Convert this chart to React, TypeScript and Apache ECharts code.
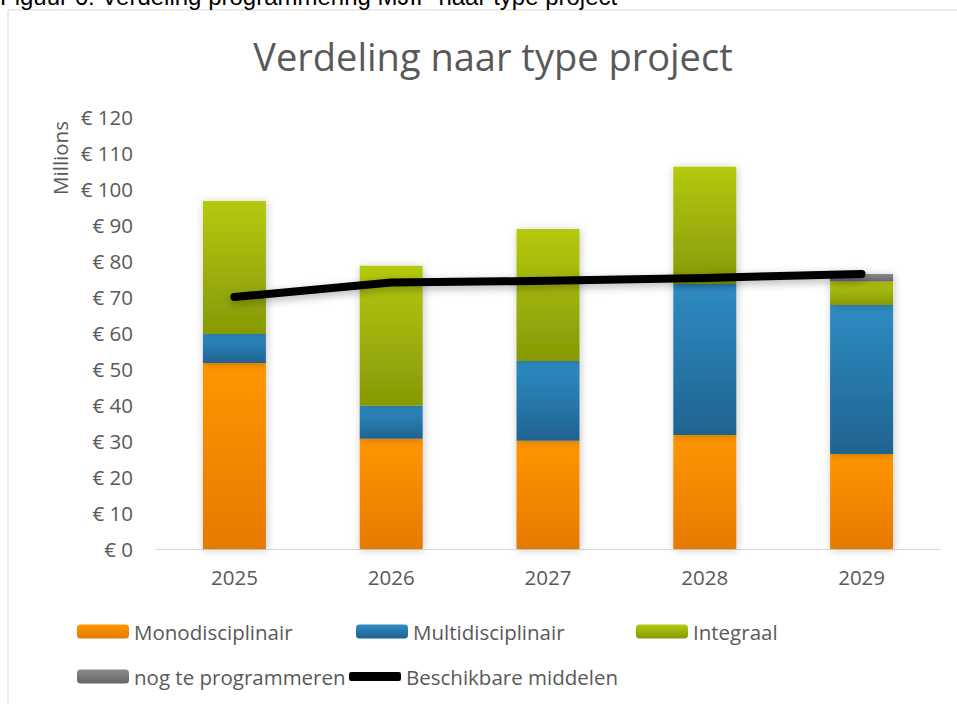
import React, { useEffect, useRef } from "react";
import * as echarts from "echarts";

const years = ["2025", "2026", "2027", "2028", "2029"];
const mono = [51.7, 30.6, 30.1, 31.7, 26.4];
const multi = [8.0, 9.2, 22.1, 41.9, 41.4];
const integraal = [37.0, 38.9, 36.7, 32.6, 6.5];
const nogTe = [0, 0, 0, 0, 2.1];
const beschikbaar = [70.0, 74.0, 74.5, 75.3, 76.4];
const yTicks = { min: 0, max: 120, interval: 10 };

const FONT = "'Open Sans', 'Noto Sans', sans-serif";
const TXT = "#595959";

function grad(top: string, bottom: string) {
  return new echarts.graphic.LinearGradient(0, 0, 0, 1, [
    { offset: 0, color: top },
    { offset: 1, color: bottom },
  ]);
}

export default function App() {
  const ref = useRef<HTMLDivElement>(null);
  useEffect(() => {
    const chart = echarts.init(ref.current!, null, { renderer: "svg" });
    const barBase = {
      type: "bar",
      stack: "total",
      barWidth: 63,
      emphasis: { disabled: true },
    };
    const shadow = { shadowBlur: 8, shadowColor: "rgba(0,0,0,0.22)", shadowOffsetX: 1, shadowOffsetY: 1 };
    const legendText = { fontFamily: FONT, fontSize: 20.5, color: TXT };
    const mkLegend = (name: string, left: number, top: number, extra: any = {}) => ({
      data: [name],
      left,
      top,
      itemWidth: 52,
      itemHeight: 14,
      itemGap: 0,
      padding: 0,
      selectedMode: false,
      textStyle: { ...legendText, padding: [0, 0, 0, 0] },
      ...extra,
    });
    chart.setOption({
      animation: false,
      backgroundColor: "#ffffff",
      title: {
        text: "Verdeling naar type project",
        left: 488,
        top: 32,
        textAlign: "center",
        textStyle: { fontFamily: FONT, fontSize: 38, fontWeight: "normal", color: TXT },
      },
      graphic: [
        {
          type: "rect",
          shape: { x: 8, y: 10, width: 1000, height: 1000 },
          style: { fill: "none", stroke: "#d9d9d9", lineWidth: 1 },
          silent: true,
        },
        {
          type: "text",
          x: 0,
          y: 8,
          style: {
            text: "Figuur 6: Verdeling programmering MJIP naar type project",
            fontFamily: "'Liberation Sans', Arial, sans-serif",
            fontSize: 24,
            fill: "#000000",
            textVerticalAlign: "bottom",
          },
        },
        {
          type: "text",
          x: 60,
          y: 158,
          rotation: Math.PI / 2,
          style: {
            text: "Millions",
            fontFamily: FONT,
            fontSize: 20.5,
            fill: TXT,
            textAlign: "center",
            textVerticalAlign: "middle",
          },
        },
      ],
      grid: { left: 156, right: 17, top: 117, bottom: 155 },
      legend: [
        mkLegend("Monodisciplinair", 77, 621),
        mkLegend("Multidisciplinair", 356, 621),
        mkLegend("Integraal", 636, 621),
        mkLegend("nog te programmeren", 77, 666),
        mkLegend("Beschikbare middelen", 349, 666, {
          icon: "roundRect",
          itemHeight: 9,
          itemWidth: 52,
          itemStyle: { color: "#000000" },
        }),
      ],
      xAxis: {
        type: "category",
        data: years,
        axisLine: { lineStyle: { color: "#d9d9d9", width: 1 } },
        axisTick: { show: false },
        axisLabel: { fontFamily: FONT, fontSize: 20.5, color: TXT, margin: 17 },
      },
      yAxis: {
        type: "value",
        min: yTicks.min,
        max: yTicks.max,
        interval: yTicks.interval,
        splitLine: { show: false },
        axisLine: { show: false },
        axisTick: { show: false },
        axisLabel: {
          fontFamily: FONT,
          fontSize: 20.5,
          color: TXT,
          margin: 23,
          formatter: (v: number) => "€ " + v,
        },
      },
      series: [
        {
          ...barBase,
          name: "Monodisciplinair",
          data: mono,
          itemStyle: { color: grad("#ff9600", "#e57a00"), ...shadow },
        },
        {
          ...barBase,
          name: "Multidisciplinair",
          data: multi,
          itemStyle: { color: grad("#2e8cc2", "#1f6391"), ...shadow },
        },
        {
          ...barBase,
          name: "Integraal",
          data: integraal,
          itemStyle: { color: grad("#b5c90f", "#869905"), ...shadow },
        },
        {
          ...barBase,
          name: "nog te programmeren",
          data: nogTe,
          itemStyle: { color: grad("#8a8a8a", "#666666"), ...shadow },
        },
        {
          type: "line",
          name: "Beschikbare middelen",
          data: beschikbaar,
          symbol: "none",
          z: 5,
          emphasis: { disabled: true },
          itemStyle: { color: "#000000" },
          lineStyle: {
            color: "#000000",
            width: 8,
            cap: "round",
            join: "round",
            shadowBlur: 8,
            shadowColor: "rgba(0,0,0,0.3)",
            shadowOffsetY: 3,
          },
        },
      ],
    });
    return () => chart.dispose();
  }, []);
  return (
    <div
      ref={ref}
      style={{ position: "fixed", left: 0, top: 0, width: 957, height: 704 }}
    />
  );
}
